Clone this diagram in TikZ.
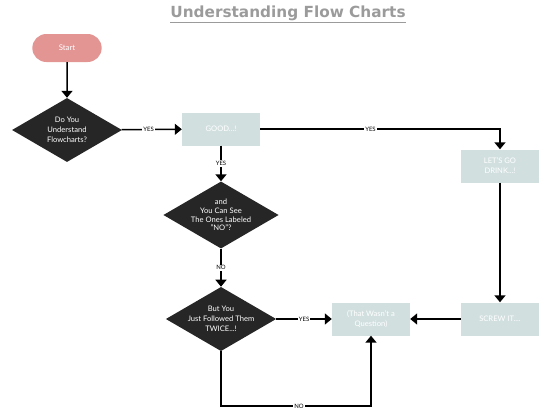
\documentclass[tikz,border=0pt]{standalone}
\usepackage{fontspec}
\setmainfont{Lato}
\newfontfamily\titlefont{DejaVu Sans}
\usetikzlibrary{arrows.meta,positioning,shapes.geometric,shapes.misc}
\definecolor{startpink}{HTML}{E39594}
\definecolor{boxgray}{HTML}{D2DFDF}
\definecolor{decisionink}{HTML}{262626}
\definecolor{titlegray}{HTML}{9B9B9B}
\tikzset{
  heading/.style={font=\titlefont\bfseries\fontsize{15.3}{17}\selectfont,
                  text=titlegray,inner sep=0pt},
  startnode/.style={rounded rectangle,fill=startpink,text=white,
                    minimum width=76pt,minimum height=28pt,
                    font=\fontsize{7.8}{9}\selectfont},
  decision/.style={diamond,fill=decisionink,text=white,align=center,
                   aspect=1.72,inner sep=0pt,minimum width=110pt,
                   minimum height=64pt,font=\fontsize{7.6}{10}\selectfont},
  boxnode/.style={rectangle,fill=boxgray,text=white,align=center,
                  minimum width=78pt,minimum height=33pt,
                  font=\fontsize{7.6}{10}\selectfont},
  flow/.style={-{Triangle[length=7pt,width=11pt]},line width=1.5pt,draw=black},
  flowlabel/.style={fill=white,inner sep=1pt,font=\fontsize{6}{6}\selectfont}
}
\begin{document}
\begin{tikzpicture}[x=1pt,y=-1pt]
    \useasboundingbox (0,0) rectangle (550,410);

    \node[heading] (title) at (288,14) {\underline{Understanding Flow Charts}};

    \node[startnode] (start) at (67,48) {Start};
    \node[decision] (understand) at (67,130) {Do You\\Understand\\Flowcharts?};
    \node[boxnode] (good) at (221,129) {GOOD...!};
    \node[boxnode] (drink) at (500,166) {LET'S GO\\DRINK...!};
    \node[decision,font=\fontsize{7.6}{8.8}\selectfont] (see) at (221,215)
      {and\\You Can See\\The Ones Labeled\\"NO"?};
    \node[decision] (twice) at (221,319) {But You\\Just Followed Them\\TWICE...!};
    \node[boxnode] (question) at (371,319) {(That Wasn't a\\Question)};
    \node[boxnode] (screw) at (500,319) {SCREW IT....};
    \coordinate (corner) at (371,406);

    \draw[flow] (start) -- (understand);
    \draw[flow] (understand) -- node[flowlabel,pos=0.45] {YES} (good);
    \draw[flow] (good) -| node[flowlabel,pos=0.23] {YES} (drink);
    \draw[flow] (good) -- node[flowlabel] {YES} (see);
    \draw[flow] (see) -- node[flowlabel] {NO} (twice);
    \draw[flow] (drink) -- (screw);
    \draw[flow] (screw) -- (question);
    \draw[flow] (twice) -- node[flowlabel] {YES} (question);
    \draw[flow] (twice) |- node[flowlabel,pos=0.76] {NO} (corner) -- (question);
\end{tikzpicture}
\end{document}
